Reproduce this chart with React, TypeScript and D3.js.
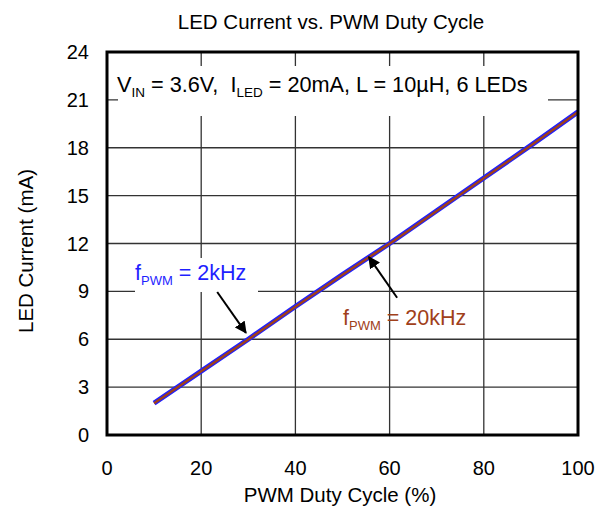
import * as React from "react";
import { scaleLinear, line } from "d3";

const duty = [10, 20, 30, 40, 50, 60, 70, 80, 90, 100];
const current2k = [2.0, 4.0, 6.0, 8.05, 10.05, 12.0, 14.05, 16.1, 18.15, 20.25];
const current20k = [1.99, 3.99, 5.99, 8.04, 10.04, 11.99, 14.04, 16.09, 18.14, 20.24];
const xTicks = [0, 20, 40, 60, 80, 100];
const yTicks = [0, 3, 6, 9, 12, 15, 18, 21, 24];

const W = 607;
const H = 509;
const m = { left: 107, top: 52, right: 29, bottom: 74 };
const font = "'Liberation Sans', Arial, sans-serif";
const blue = "#1f1fff";
const brown = "#a0401a";

function App() {
  const x = scaleLinear().domain([0, 100]).range([m.left, W - m.right]);
  const y = scaleLinear().domain([0, 24]).range([H - m.bottom, m.top]);

  const mk = line<number>()
    .x((_, i) => x(duty[i]))
    .y((d) => y(d));

  // arrow ends in data units
  const arrow2k = [[23.4, 8.96], [29.5, 6.4]];
  const arrow20k = [[61.6, 8.6], [55.6, 11.15]];

  return (
    <svg width={W} height={H} style={{ position: "absolute", left: 0, top: 0 }} fontFamily={font}>
      <defs>
        <marker id="head" viewBox="0 0 10 10" refX="9" refY="5" markerWidth="6" markerHeight="6" orient="auto">
          <path d="M0,0 L10,5 L0,10 z" fill="#000" />
        </marker>
      </defs>
      <rect x={0} y={0} width={W} height={H} fill="#fff" />
      {/* grid */}
      {xTicks.slice(1, -1).map((t) => (
        <line key={"gx" + t} x1={x(t)} x2={x(t)} y1={y(0)} y2={y(24)} stroke="#333" strokeWidth={1.3} />
      ))}
      {yTicks.slice(1, -1).map((t) => (
        <line key={"gy" + t} x1={x(0)} x2={x(100)} y1={y(t)} y2={y(t)} stroke="#333" strokeWidth={1.3} />
      ))}
      {/* annotation boxes */}
      <rect x={118} y={66} width={430} height={50} fill="#fff" />
      <rect x={135} y={258} width={123} height={34} fill="#fff" />
      <text x={117} y={92} fontSize={21.7} style={{ whiteSpace: "pre" }}>
        V<tspan fontSize={13.5} dy={5}>IN</tspan>
        <tspan dy={-5}>{" = 3.6V,  I"}</tspan>
        <tspan fontSize={13.5} dy={5}>LED</tspan>
        <tspan dy={-5}>{" = 20mA, L = 10µH, 6 LEDs"}</tspan>
      </text>
      {/* series */}
      <path d={mk(current2k) || ""} fill="none" stroke={blue} strokeWidth={5} />
      <path d={mk(current20k) || ""} fill="none" stroke={brown} strokeWidth={2.5} />
      {/* labels */}
      <text x={135} y={280} fontSize={21.5} fill={blue}>
        f<tspan fontSize={13} dy={5}>PWM</tspan>
        <tspan dy={-5}>{" = 2kHz"}</tspan>
      </text>
      <text x={343} y={325} fontSize={21.5} fill={brown}>
        f<tspan fontSize={13} dy={5}>PWM</tspan>
        <tspan dy={-5}>{" = 20kHz"}</tspan>
      </text>
      <line x1={x(arrow2k[0][0])} y1={y(arrow2k[0][1])} x2={x(arrow2k[1][0])} y2={y(arrow2k[1][1])} stroke="#000" strokeWidth={2} markerEnd="url(#head)" />
      <line x1={x(arrow20k[0][0])} y1={y(arrow20k[0][1])} x2={x(arrow20k[1][0])} y2={y(arrow20k[1][1])} stroke="#000" strokeWidth={2} markerEnd="url(#head)" />
      {/* frame */}
      <rect x={x(0)} y={y(24)} width={x(100) - x(0)} height={y(0) - y(24)} fill="none" stroke="#000" strokeWidth={3} />
      {/* ticks */}
      {xTicks.map((t) => (
        <text key={"xt" + t} x={x(t)} y={y(0) + 40} textAnchor="middle" fontSize={20}>{t}</text>
      ))}
      {yTicks.map((t) => (
        <text key={"yt" + t} x={x(0) - 18} y={y(t) + 7} textAnchor="end" fontSize={20}>{t}</text>
      ))}
      <text x={331} y={29} textAnchor="middle" fontSize={20.5}>LED Current vs. PWM Duty Cycle</text>
      <text x={340} y={502} textAnchor="middle" fontSize={20.5}>PWM Duty Cycle (%)</text>
      <text transform={`translate(33,251) rotate(-90)`} textAnchor="middle" fontSize={20.5}>LED Current (mA)</text>
    </svg>
  );
}

export default App;
